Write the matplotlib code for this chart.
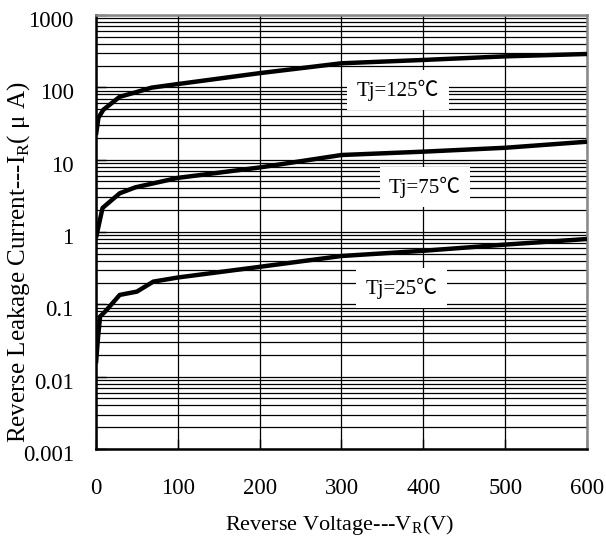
import matplotlib
matplotlib.use("Agg")
import matplotlib.pyplot as plt
import matplotlib.transforms as mtransforms
from matplotlib.ticker import LogLocator, NullFormatter, FixedLocator, FixedFormatter

plt.rcParams["font.family"] = ["Liberation Serif", "Noto Sans CJK SC", "DejaVu Serif"]
plt.rcParams["mathtext.fontset"] = "custom"
plt.rcParams["mathtext.rm"] = "Liberation Serif"

# ── data ─────────────────────────────────────────────────────────
v_125 = [0, 3, 9, 29, 48, 68, 100, 200, 300, 400, 500, 600]
i_125 = [22, 38, 49, 74, 85, 99, 111, 157, 215, 239, 268, 289]

v_75 = [0, 8, 29, 48, 100, 200, 300, 400, 500, 600]
i_75 = [0.83, 2.15, 3.43, 4.14, 5.6, 7.8, 11.6, 12.9, 14.6, 17.7]

v_25 = [0, 2.5, 5, 11, 29, 50, 70, 100, 200, 300, 400, 500, 600]
i_25 = [0.0153, 0.035, 0.068, 0.079, 0.135, 0.15, 0.206, 0.235, 0.33, 0.466, 0.55, 0.67, 0.8]

labels   = ["Tj=125\u2103", "Tj=75\u2103", "Tj=25\u2103"]
label_xy = [(369, 92), (402, 4.2), (373, 0.168)]

x_ticks = [0, 100, 200, 300, 400, 500, 600]
y_ticks = [0.001, 0.01, 0.1, 1, 10, 100, 1000]
y_tick_labels = ["0.001", "0.01", "0.1", "1", "10", "100", "1000"]

fig = plt.figure(figsize=(6.06, 5.41), dpi=100)
ax = fig.add_axes([0.1584, 0.170, 0.8102, 0.8023])

ax.set_yscale("log")
ax.set_xlim(0, 600)
ax.set_ylim(0.001, 1000)

# grid: all log lines horizontally, every 100 V vertically
ax.yaxis.set_minor_locator(LogLocator(base=10, subs=range(2, 10), numticks=20))
ax.yaxis.set_minor_formatter(NullFormatter())
ax.yaxis.set_major_locator(FixedLocator(y_ticks))
ax.yaxis.set_major_formatter(FixedFormatter(y_tick_labels))
ax.set_xticks(x_ticks)
ax.grid(which="both", axis="y", color="black", lw=0.9, zorder=1)
ax.grid(which="major", axis="x", color="black", lw=0.9, zorder=1)

for v, i in [(v_125, i_125), (v_75, i_75), (v_25, i_25)]:
    ax.plot(v, i, color="black", lw=3.2, solid_capstyle="butt", zorder=4)

for txt, (x, y) in zip(labels, label_xy):
    ax.text(x, y, txt, fontsize=15, ha="center", va="center", zorder=5,
            bbox=dict(boxstyle="square,pad=0.45", facecolor="white", edgecolor="none"))

ax.tick_params(axis="both", which="major", direction="in", length=7, width=1,
               labelsize=16.5, colors="black")
ax.tick_params(axis="y", which="major", pad=16)
ax.tick_params(axis="x", which="major", pad=21)
ax.tick_params(axis="y", which="minor", length=0)

# y tick labels sit a little below their grid line in the reference
shift = mtransforms.ScaledTranslation(0, -4 / 100, fig.dpi_scale_trans)
for lab in ax.get_yticklabels():
    lab.set_transform(lab.get_transform() + shift)

for side in ["left", "bottom"]:
    ax.spines[side].set_color("black")
    ax.spines[side].set_linewidth(1.8)
for side in ["top", "right"]:
    ax.spines[side].set_color("#888888")
    ax.spines[side].set_linewidth(1.8)

ax.set_xlabel("Reverse Voltage---V$_\\mathregular{R}$(V)", fontsize=16)
ax.set_ylabel("Reverse Leakage Current---I$_\\mathregular{R}$( \u03bc A)", fontsize=18)
ax.xaxis.set_label_coords(0.497, -0.147)
ax.yaxis.set_label_coords(-0.130, 0.43)

fig.savefig("out.png", dpi=100)
